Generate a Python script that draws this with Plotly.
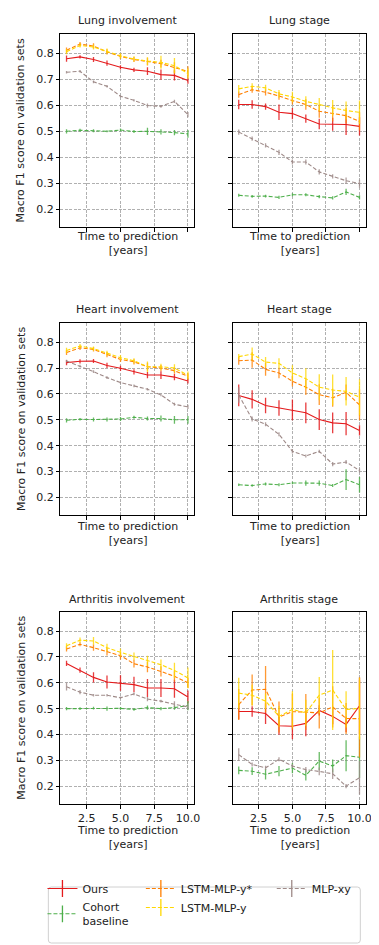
import plotly.graph_objects as go

W, H = 379, 945

# ---------------- data ----------------
years = [1, 2, 3, 4, 5, 6, 7, 8, 9, 10]
x_tick_vals = [2.5, 5.0, 7.5, 10.0]
x_tick_text = ["2.5", "5.0", "7.5", "10.0"]
y_tick_vals = [0.2, 0.3, 0.4, 0.5, 0.6, 0.7, 0.8]
y_tick_text = ["0.2", "0.3", "0.4", "0.5", "0.6", "0.7", "0.8"]

panel_titles = ["Lung involvement", "Lung stage",
                "Heart involvement", "Heart stage",
                "Arthritis involvement", "Arthritis stage"]
series_names = ["Ours", "Cohort<br>baseline", "LSTM-MLP-y*", "LSTM-MLP-y", "MLP-xy"]
y_label = "Macro F1 score on validation sets"
x_label = "Time to prediction<br>[years]"

# Lung involvement
lung_inv_ours = [0.779, 0.786, 0.776, 0.762, 0.746, 0.736, 0.731, 0.718, 0.715, 0.695]
lung_inv_ours_err = [0.012, 0.006, 0.010, 0.010, 0.008, 0.008, 0.015, 0.020, 0.020, 0.012]
lung_inv_cohort = [0.500, 0.504, 0.502, 0.500, 0.505, 0.499, 0.500, 0.498, 0.495, 0.490]
lung_inv_cohort_err = [0.008, 0.006, 0.006, 0.004, 0.006, 0.006, 0.014, 0.010, 0.010, 0.015]
lung_inv_lstm_star = [0.812, 0.835, 0.828, 0.805, 0.788, 0.776, 0.768, 0.760, 0.745, 0.730]
lung_inv_lstm_star_err = [0.010, 0.008, 0.010, 0.010, 0.010, 0.010, 0.015, 0.015, 0.020, 0.020]
lung_inv_lstm_y = [0.806, 0.830, 0.824, 0.808, 0.790, 0.778, 0.770, 0.765, 0.752, 0.722]
lung_inv_lstm_y_err = [0.010, 0.008, 0.010, 0.010, 0.010, 0.010, 0.015, 0.025, 0.030, 0.020]
lung_inv_mlp = [0.727, 0.731, 0.690, 0.673, 0.635, 0.619, 0.599, 0.596, 0.615, 0.564]
lung_inv_mlp_err = [0.005, 0.005, 0.005, 0.005, 0.004, 0.004, 0.008, 0.005, 0.006, 0.010]

# Lung stage
lung_stg_ours = [0.603, 0.603, 0.595, 0.573, 0.568, 0.549, 0.528, 0.527, 0.526, 0.519]
lung_stg_ours_err = [0.018, 0.016, 0.012, 0.030, 0.022, 0.016, 0.020, 0.025, 0.040, 0.035]
lung_stg_cohort = [0.254, 0.250, 0.251, 0.246, 0.256, 0.256, 0.249, 0.244, 0.267, 0.246]
lung_stg_cohort_err = [0.006, 0.005, 0.005, 0.006, 0.006, 0.006, 0.006, 0.006, 0.012, 0.008]
lung_stg_lstm_star = [0.641, 0.660, 0.650, 0.636, 0.618, 0.603, 0.577, 0.569, 0.560, 0.538]
lung_stg_lstm_star_err = [0.012, 0.012, 0.012, 0.015, 0.015, 0.020, 0.025, 0.030, 0.030, 0.035]
lung_stg_lstm_y = [0.663, 0.673, 0.667, 0.644, 0.632, 0.615, 0.603, 0.590, 0.580, 0.573]
lung_stg_lstm_y_err = [0.015, 0.012, 0.012, 0.015, 0.020, 0.020, 0.025, 0.030, 0.035, 0.045]
lung_stg_mlp = [0.497, 0.472, 0.446, 0.419, 0.382, 0.382, 0.344, 0.327, 0.310, 0.299]
lung_stg_mlp_err = [0.010, 0.008, 0.008, 0.010, 0.010, 0.010, 0.010, 0.008, 0.012, 0.015]

# Heart involvement
heart_inv_ours = [0.721, 0.726, 0.727, 0.710, 0.699, 0.685, 0.673, 0.673, 0.665, 0.650]
heart_inv_ours_err = [0.010, 0.008, 0.008, 0.010, 0.010, 0.010, 0.012, 0.015, 0.012, 0.010]
heart_inv_cohort = [0.498, 0.502, 0.501, 0.501, 0.503, 0.510, 0.505, 0.505, 0.500, 0.500]
heart_inv_cohort_err = [0.008, 0.005, 0.008, 0.008, 0.008, 0.006, 0.008, 0.012, 0.015, 0.015]
heart_inv_lstm_star = [0.760, 0.778, 0.772, 0.752, 0.733, 0.724, 0.705, 0.700, 0.690, 0.668]
heart_inv_lstm_star_err = [0.010, 0.008, 0.008, 0.010, 0.010, 0.010, 0.015, 0.012, 0.012, 0.012]
heart_inv_lstm_y = [0.768, 0.785, 0.775, 0.757, 0.740, 0.728, 0.705, 0.705, 0.700, 0.672]
heart_inv_lstm_y_err = [0.010, 0.008, 0.008, 0.010, 0.010, 0.010, 0.020, 0.012, 0.015, 0.015]
heart_inv_mlp = [0.727, 0.708, 0.686, 0.663, 0.644, 0.631, 0.618, 0.596, 0.560, 0.550]
heart_inv_mlp_err = [0.005, 0.005, 0.005, 0.005, 0.005, 0.005, 0.005, 0.005, 0.006, 0.008]

# Heart stage
heart_stg_ours = [0.594, 0.579, 0.555, 0.546, 0.538, 0.527, 0.501, 0.488, 0.485, 0.459]
heart_stg_ours_err = [0.042, 0.035, 0.030, 0.030, 0.040, 0.040, 0.040, 0.040, 0.045, 0.020]
heart_stg_cohort = [0.249, 0.246, 0.252, 0.249, 0.256, 0.255, 0.255, 0.246, 0.269, 0.249]
heart_stg_cohort_err = [0.005, 0.005, 0.006, 0.006, 0.005, 0.010, 0.010, 0.006, 0.040, 0.030]
heart_stg_lstm_star = [0.728, 0.731, 0.695, 0.681, 0.649, 0.626, 0.597, 0.585, 0.606, 0.558]
heart_stg_lstm_star_err = [0.015, 0.030, 0.025, 0.020, 0.020, 0.030, 0.040, 0.035, 0.030, 0.060]
heart_stg_lstm_y = [0.744, 0.754, 0.723, 0.718, 0.681, 0.659, 0.626, 0.615, 0.610, 0.587]
heart_stg_lstm_y_err = [0.010, 0.025, 0.020, 0.020, 0.030, 0.040, 0.050, 0.060, 0.055, 0.070]
heart_stg_mlp = [0.596, 0.503, 0.483, 0.444, 0.378, 0.360, 0.378, 0.329, 0.337, 0.304]
heart_stg_mlp_err = [0.030, 0.010, 0.008, 0.008, 0.008, 0.006, 0.006, 0.008, 0.008, 0.008]

# Arthritis involvement
arth_inv_ours = [0.675, 0.649, 0.621, 0.603, 0.599, 0.593, 0.580, 0.580, 0.577, 0.545]
arth_inv_ours_err = [0.010, 0.010, 0.020, 0.025, 0.030, 0.030, 0.035, 0.035, 0.035, 0.025]
arth_inv_cohort = [0.500, 0.500, 0.502, 0.500, 0.501, 0.497, 0.504, 0.500, 0.504, 0.512]
arth_inv_cohort_err = [0.006, 0.005, 0.005, 0.008, 0.005, 0.005, 0.008, 0.006, 0.008, 0.018]
arth_inv_lstm_star = [0.731, 0.749, 0.736, 0.721, 0.705, 0.674, 0.661, 0.644, 0.625, 0.600]
arth_inv_lstm_star_err = [0.010, 0.008, 0.012, 0.015, 0.015, 0.015, 0.020, 0.020, 0.020, 0.020]
arth_inv_lstm_y = [0.743, 0.765, 0.762, 0.736, 0.718, 0.702, 0.685, 0.670, 0.648, 0.619]
arth_inv_lstm_y_err = [0.010, 0.010, 0.015, 0.015, 0.015, 0.015, 0.020, 0.020, 0.030, 0.040]
arth_inv_mlp = [0.585, 0.564, 0.552, 0.552, 0.542, 0.557, 0.537, 0.529, 0.517, 0.507]
arth_inv_mlp_err = [0.015, 0.008, 0.005, 0.005, 0.005, 0.005, 0.008, 0.005, 0.012, 0.010]

# Arthritis stage
arth_stg_ours = [0.489, 0.489, 0.481, 0.434, 0.432, 0.443, 0.493, 0.470, 0.439, 0.511]
arth_stg_ours_err = [0.030, 0.020, 0.040, 0.035, 0.050, 0.050, 0.020, 0.030, 0.030, 0.110]
arth_stg_cohort = [0.261, 0.258, 0.246, 0.258, 0.270, 0.242, 0.297, 0.278, 0.318, 0.312]
arth_stg_cohort_err = [0.015, 0.015, 0.020, 0.020, 0.020, 0.020, 0.035, 0.025, 0.060, 0.080]
arth_stg_lstm_star = [0.516, 0.572, 0.575, 0.468, 0.488, 0.487, 0.483, 0.507, 0.462, 0.461]
arth_stg_lstm_star_err = [0.060, 0.060, 0.090, 0.060, 0.070, 0.070, 0.060, 0.080, 0.060, 0.150]
arth_stg_lstm_y = [0.560, 0.552, 0.529, 0.470, 0.497, 0.484, 0.552, 0.572, 0.497, 0.501]
arth_stg_lstm_y_err = [0.060, 0.040, 0.030, 0.040, 0.070, 0.050, 0.070, 0.155, 0.070, 0.120]
arth_stg_mlp = [0.322, 0.284, 0.271, 0.304, 0.278, 0.264, 0.257, 0.248, 0.200, 0.233]
arth_stg_mlp_err = [0.025, 0.008, 0.008, 0.008, 0.008, 0.010, 0.015, 0.020, 0.008, 0.065]

panels = [
    [(lung_inv_ours, lung_inv_ours_err), (lung_inv_cohort, lung_inv_cohort_err),
     (lung_inv_lstm_star, lung_inv_lstm_star_err), (lung_inv_lstm_y, lung_inv_lstm_y_err),
     (lung_inv_mlp, lung_inv_mlp_err)],
    [(lung_stg_ours, lung_stg_ours_err), (lung_stg_cohort, lung_stg_cohort_err),
     (lung_stg_lstm_star, lung_stg_lstm_star_err), (lung_stg_lstm_y, lung_stg_lstm_y_err),
     (lung_stg_mlp, lung_stg_mlp_err)],
    [(heart_inv_ours, heart_inv_ours_err), (heart_inv_cohort, heart_inv_cohort_err),
     (heart_inv_lstm_star, heart_inv_lstm_star_err), (heart_inv_lstm_y, heart_inv_lstm_y_err),
     (heart_inv_mlp, heart_inv_mlp_err)],
    [(heart_stg_ours, heart_stg_ours_err), (heart_stg_cohort, heart_stg_cohort_err),
     (heart_stg_lstm_star, heart_stg_lstm_star_err), (heart_stg_lstm_y, heart_stg_lstm_y_err),
     (heart_stg_mlp, heart_stg_mlp_err)],
    [(arth_inv_ours, arth_inv_ours_err), (arth_inv_cohort, arth_inv_cohort_err),
     (arth_inv_lstm_star, arth_inv_lstm_star_err), (arth_inv_lstm_y, arth_inv_lstm_y_err),
     (arth_inv_mlp, arth_inv_mlp_err)],
    [(arth_stg_ours, arth_stg_ours_err), (arth_stg_cohort, arth_stg_cohort_err),
     (arth_stg_lstm_star, arth_stg_lstm_star_err), (arth_stg_lstm_y, arth_stg_lstm_y_err),
     (arth_stg_mlp, arth_stg_mlp_err)],
]

# ---------------- style ----------------
colors = ["#e41a1c", "#4daf4a", "#ff7f00", "#ffd700", "#9e8a88"]
err_colors = ["rgba(228,26,28,0.85)", "rgba(77,175,74,0.85)", "rgba(255,127,0,0.8)",
              "rgba(255,215,0,0.8)", "rgba(158,138,136,0.8)"]
dashes = ["solid", "4px,2px", "4px,2px", "4px,2px", "4px,2px"]
legend_ids = ["legend", "legend", "legend2", "legend2", "legend3"]
FONT = "DejaVu Sans"
TXT = "#222222"

col_px = [(53.3, 189.0), (228.3, 363.3)]
row_px = [(26.0, 219.3), (315.0, 507.3), (604.0, 796.0)]
title_y_px = [12.5, 301.5, 591.0]
xlab_center_px = [236.0, 525.5, 829.5]


def px_x(p):
    return p / W


def px_y(p):
    return 1 - p / H


fig = go.Figure()
annotations = []
layout_axes = {}

for i, series in enumerate(panels):
    r, c = divmod(i, 2)
    n = i + 1
    xa = "x" if n == 1 else f"x{n}"
    ya = "y" if n == 1 else f"y{n}"
    for k, (vals, errs) in enumerate(series):
        fig.add_trace(go.Scatter(
            x=years, y=vals, xaxis=xa, yaxis=ya, mode="lines",
            line=dict(color=colors[k], width=1.1, dash=dashes[k]),
            error_y=dict(type="data", array=errs, visible=True, width=0,
                         thickness=1.3, color=err_colors[k]),
            showlegend=False, name=series_names[k].replace("<br>", " "),
        ))
    x0, x1 = col_px[c]
    y0, y1 = row_px[r]
    xkey = "xaxis" if n == 1 else f"xaxis{n}"
    ykey = "yaxis" if n == 1 else f"yaxis{n}"
    layout_axes[xkey] = dict(
        domain=[px_x(x0), px_x(x1)], anchor=ya, range=[0.55, 10.45],
        tickvals=x_tick_vals, ticktext=x_tick_text, showticklabels=(r == 2),
        ticks="outside", ticklen=3.5, tickwidth=1, tickcolor="black",
        showline=True, linecolor="black", linewidth=1, mirror=True,
        showgrid=True, gridcolor="#b0b0b0", gridwidth=0.8, griddash="3px,1.5px",
        zeroline=False, tickfont=dict(family=FONT, size=11, color=TXT), fixedrange=True,
    )
    layout_axes[ykey] = dict(
        domain=[px_y(y1), px_y(y0)], anchor=xa, range=[0.131, 0.874],
        tickvals=y_tick_vals, ticktext=y_tick_text, showticklabels=(c == 0),
        ticks="outside", ticklen=3.5, tickwidth=1, tickcolor="black",
        showline=True, linecolor="black", linewidth=1, mirror=True,
        showgrid=True, gridcolor="#b0b0b0", gridwidth=0.8, griddash="3px,1.5px",
        zeroline=False, tickfont=dict(family=FONT, size=11, color=TXT), fixedrange=True,
    )
    cx = px_x((x0 + x1) / 2)
    annotations.append(dict(text=panel_titles[i], x=cx, y=px_y(title_y_px[r]),
                            xref="paper", yref="paper", showarrow=False,
                            xanchor="center", yanchor="middle",
                            font=dict(family=FONT, size=11, color=TXT)))
    annotations.append(dict(text=x_label, x=cx, y=px_y(xlab_center_px[r]),
                            xref="paper", yref="paper", showarrow=False,
                            xanchor="center", yanchor="middle", align="center",
                            font=dict(family=FONT, size=11, color=TXT)))
    if c == 0:
        annotations.append(dict(text=y_label, x=px_x(13.0), y=px_y((y0 + y1) / 2),
                                xref="paper", yref="paper", showarrow=False,
                                textangle=-90, xanchor="center", yanchor="middle",
                                font=dict(family=FONT, size=11, color=TXT)))

# legend entries (error-bar style glyph: line with a vertical tick)
for k in range(5):
    fig.add_trace(go.Scatter(
        x=[None], y=[None], xaxis="x", yaxis="y", mode="lines+markers",
        name=series_names[k], legend=legend_ids[k],
        line=dict(color=colors[k], width=1.1, dash=dashes[k]),
        marker=dict(symbol="line-ns-open", size=12, color=colors[k],
                    line=dict(width=1.3, color=colors[k])),
        showlegend=True,
    ))

leg_common = dict(orientation="v", bgcolor="rgba(0,0,0,0)", borderwidth=0,
                  font=dict(family=FONT, size=11, color=TXT), itemwidth=30,
                  xanchor="left", yanchor="top", tracegroupgap=0)
leg_top = 866.0
fig.update_layout(
    legend=dict(x=px_x(35.0), y=px_y(leg_top), **leg_common),
    legend2=dict(x=px_x(135.0), y=px_y(leg_top), **leg_common),
    legend3=dict(x=px_x(268.0), y=px_y(leg_top), **leg_common),
)

# legend frame with rounded corners
bx0, bx1, by0, by1, rr = 41.0, 358.0, 879.0, 935.0, 3.0
X = lambda p: px_x(p)
Y = lambda p: px_y(p)
path = (f"M {X(bx0 + rr)},{Y(by0)} L {X(bx1 - rr)},{Y(by0)} "
        f"Q {X(bx1)},{Y(by0)} {X(bx1)},{Y(by0 + rr)} L {X(bx1)},{Y(by1 - rr)} "
        f"Q {X(bx1)},{Y(by1)} {X(bx1 - rr)},{Y(by1)} L {X(bx0 + rr)},{Y(by1)} "
        f"Q {X(bx0)},{Y(by1)} {X(bx0)},{Y(by1 - rr)} L {X(bx0)},{Y(by0 + rr)} "
        f"Q {X(bx0)},{Y(by0)} {X(bx0 + rr)},{Y(by0)} Z")
fig.add_shape(type="path", path=path, xref="paper", yref="paper",
              line=dict(color="#d0d0d0", width=1), fillcolor="rgba(255,255,255,0)", layer="below")

fig.update_layout(
    width=W, height=H, margin=dict(l=0, r=0, t=0, b=0),
    paper_bgcolor="white", plot_bgcolor="white",
    annotations=annotations, font=dict(family=FONT, size=11, color=TXT),
    **layout_axes,
)

fig.write_html("out.html", config={"displayModeBar": False})
